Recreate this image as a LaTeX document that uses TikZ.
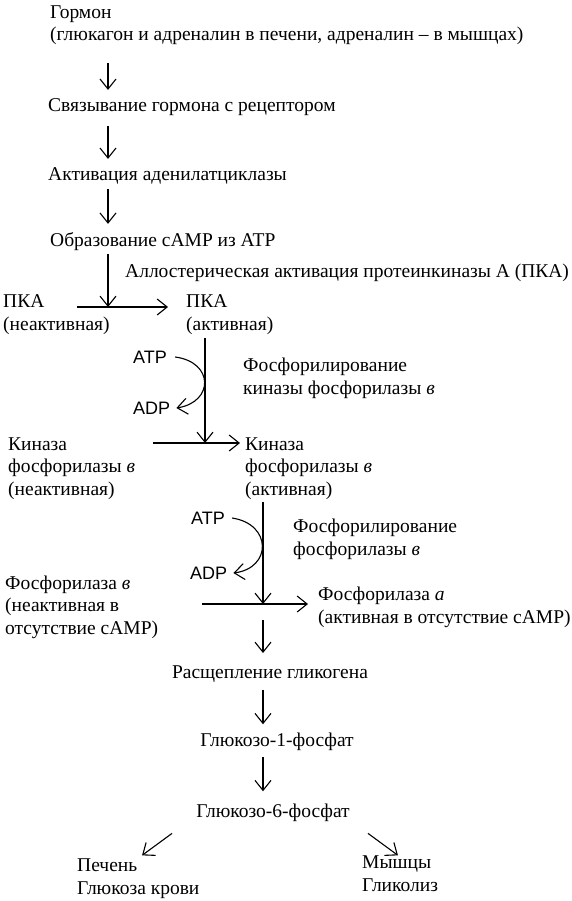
\documentclass[tikz,border=0pt]{standalone}
\usepackage{fontspec}
\setmainfont{Liberation Serif}
\newfontfamily\atpfont{Liberation Sans}
\usetikzlibrary{arrows.meta}
\tikzset{
  lbl/.style={anchor=base west, inner sep=0pt, align=left, font=\fontsize{19.5}{22.5}\selectfont},
  mid/.style={lbl, anchor=base, align=center},
  nuc/.style={anchor=west, inner sep=0pt, font=\atpfont\fontsize{18}{20}\selectfont},
  arr/.style={-{Straight Barb[length=10pt,width=16pt]}, line width=1.1pt}
}
\begin{document}
\begin{tikzpicture}[x=1pt,y=-1pt]
\useasboundingbox (0,0) rectangle (571,901);
\coordinate (C) at (108,0);
\coordinate (D) at (205,0);
\coordinate (E) at (263,0);
\node[lbl] (hormone) at (50,41) {Гормон\\(глюкагон и адреналин в печени, адреналин – в мышцах)};
\node[lbl] (bind) at (48,112) {Связывание гормона с рецептором};
\node[lbl] (cyclase) at (48,181) {Активация аденилатциклазы};
\node[lbl] (camp) at (50,247) {Образование cAMP из ATP};
\node[lbl] (allo) at (125,277) {Аллостерическая активация протеинкиназы А (ПКА)};
\node[lbl] (pkaoff) at (3,330) {ПКА\\(неактивная)};
\node[lbl] (pkaon) at (186,330) {ПКА\\(активная)};
\node[nuc] (atp1) at (133,357) {ATP};
\node[nuc] (adp1) at (133,408) {ADP};
\node[lbl] (phos1) at (243,394) {Фосфорилирование\\киназы фосфорилазы \textit{в}};
\node[lbl] (kinoff) at (8,495) {Киназа\\фосфорилазы \textit{в}\\(неактивная)};
\node[lbl] (kinon) at (245,495) {Киназа\\фосфорилазы \textit{в}\\(активная)};
\node[nuc] (atp2) at (191,518) {ATP};
\node[nuc] (adp2) at (190,573) {ADP};
\node[lbl] (phos2) at (293,555) {Фосфорилирование\\фосфорилазы \textit{в}};
\node[lbl] (phoff) at (5,634) {Фосфорилаза \textit{в}\\(неактивная в\\отсутствие cAMP)};
\node[lbl] (phon) at (318,623) {Фосфорилаза \textit{а}\\(активная в отсутствие cAMP)};
\node[mid] (split) at (270,678) {Расщепление гликогена};
\node[mid] (g1p) at (277,746) {Глюкозо-1-фосфат};
\node[mid] (g6p) at (273,817) {Глюкозо-6-фосфат};
\node[lbl] (liver) at (77,894) {Печень\\Глюкоза крови};
\node[lbl] (muscle) at (362,891) {Мышцы\\Гликолиз};

\draw[arr, shorten <=18pt, shorten >=9pt] (hormone.south -| C) -- (bind.north -| C);
\draw[arr, shorten <=10pt, shorten >=9pt] (bind.south -| C) -- (cyclase.north -| C);
\draw[arr, shorten <=4pt, shorten >=9pt] (cyclase.south -| C) -- (camp.north -| C);
\coordinate (J1) at (108,307);
\draw[arr, shorten <=3pt] (camp.south -| C) -- (J1);
\draw[arr, shorten <=74pt, shorten >=18pt] (pkaoff.west |- J1) -- (pkaon.west |- J1);
\coordinate (J2) at (205,443);
\draw[arr, shorten <=4pt] (pkaon.south -| D) -- (J2);
\draw[arr] (atp1.east) ++(8,0) .. controls (214,362) and (214,402) .. ([xshift=6pt]adp1.east);
\draw[arr, shorten <=145pt, shorten >=5pt] (kinoff.west |- J2) -- (kinon.west |- J2);
\coordinate (J3) at (263,604);
\draw[arr, shorten <=3pt] (kinon.south -| E) -- (J3);
\draw[arr] (atp2.east) ++(7,0) .. controls (272,524) and (272,568) .. ([xshift=6pt]adp2.east);
\draw[arr, shorten <=197pt, shorten >=10pt] (phoff.west |- J3) -- (phon.west |- J3);
\draw[arr, shorten <=16pt, shorten >=12pt] (J3) -- (split.north -| E);
\draw[arr, shorten <=8pt, shorten >=8pt] (split.south -| E) -- (g1p.north -| E);
\draw[arr, shorten <=7pt, shorten >=12pt] (g1p.south -| E) -- (g6p.north -| E);
\draw[arr] (g6p.south west) ++(-24,12) -- ++(-30,22);
\draw[arr] (g6p.south east) ++(18,12) -- ++(30,22);
\end{tikzpicture}
\end{document}
